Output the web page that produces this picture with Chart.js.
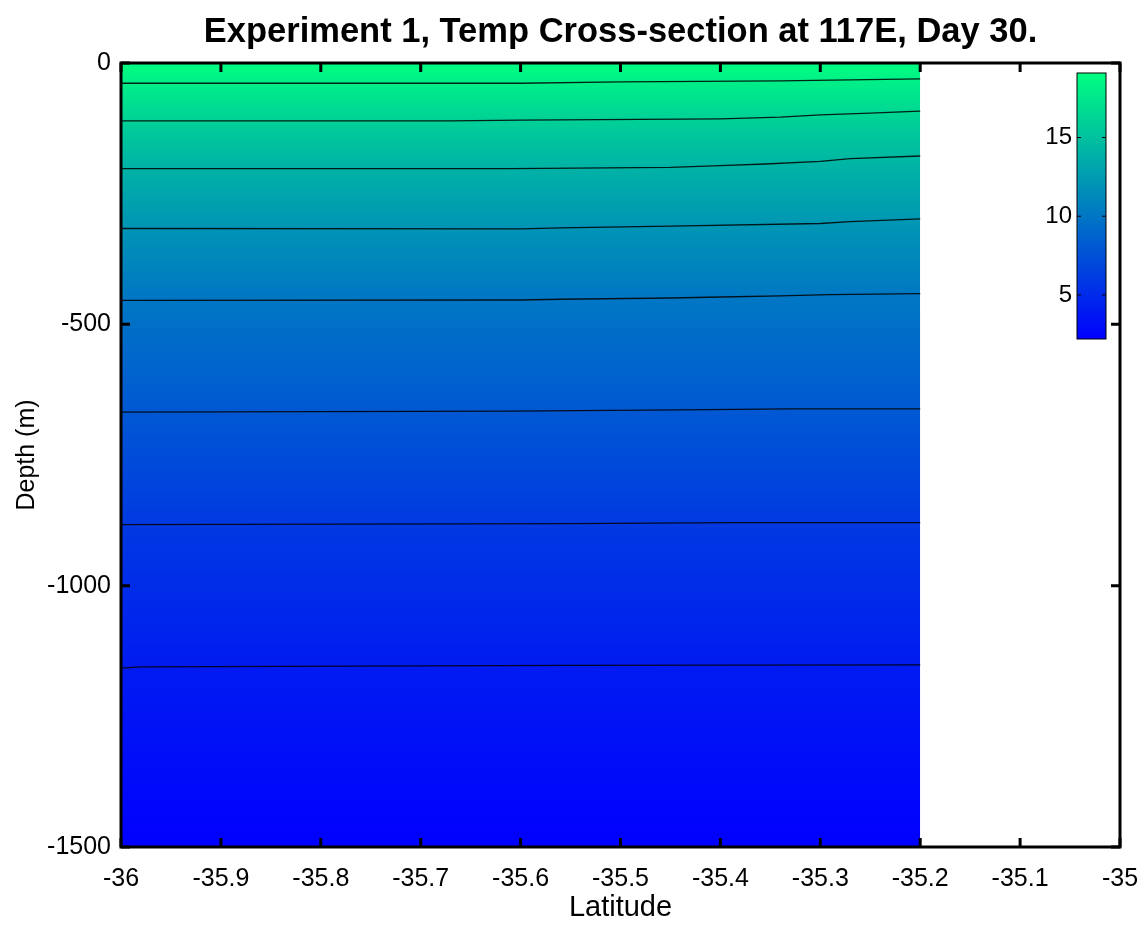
<!DOCTYPE html>
<html>
<head>
<meta charset="utf-8">
<script src="https://cdn.jsdelivr.net/npm/chart.js@4"></script>
<style>
  body { margin: 0; background: #fff; }
  #wrap { position: relative; width: 1140px; height: 928px; }
  #cb { position: absolute; left: 1000px; top: 55px; }
</style>
</head>
<body>
<div id="wrap">
  <canvas id="main" width="1140" height="928"></canvas>
  <canvas id="cb" width="120" height="300"></canvas>
</div>
<script>
const latTicks = [-36, -35.9, -35.8, -35.7, -35.6, -35.5, -35.4, -35.3, -35.2, -35.1, -35];
const depthTicks = [0, -500, -1000, -1500];
const colorTicks = [5, 10, 15];
const sectionLat = [-36, -35.2];
const tempRange = [2.2, 19.1];
const surfaceTemp = 19.1;
const bottomTemp = 2.2;

// contour lines (temperature, degC)
const contourLevels = [18, 16, 14, 12, 10, 8, 6, 4];
const lat18 = [-36, -35.6, -35.5, -35.34, -35.2];
const dep18 = [-38.7, -38.7, -36.2, -34.3, -30.5];
const lat16 = [-36, -35.67, -35.6, -35.4, -35.34, -35.3, -35.25, -35.2];
const dep16 = [-110.6, -110.6, -109.3, -106.8, -103.6, -99.2, -95.9, -92.1];
const lat14 = [-36, -35.61, -35.45, -35.4, -35.355, -35.3, -35.27, -35.2];
const dep14 = [-202.2, -202, -199.7, -196.5, -193.2, -188.3, -183.1, -177.9];
const lat12 = [-36, -35.6, -35.56, -35.45, -35.3, -35.27, -35.2];
const dep12 = [-316.6, -317.2, -315.3, -312.2, -307.1, -303.3, -298.1];
const lat10 = [-36, -35.6, -35.56, -35.45, -35.4, -35.34, -35.29, -35.2];
const dep10 = [-454, -453.4, -452, -449.6, -447.7, -445.7, -443.1, -441.2];
const lat8 = [-36, -35.61, -35.44, -35.33, -35.2];
const dep8 = [-668.1, -666.2, -663.7, -661.8, -661.8];
const lat6 = [-36, -35.55, -35.39, -35.2];
const dep6 = [-883.1, -881.2, -879.3, -879.3];
const lat4 = [-36, -35.98, -35.55, -35.2];
const dep4 = [-1157.7, -1155.2, -1152.6, -1151.4];

const contourLats = [lat18, lat16, lat14, lat12, lat10, lat8, lat6, lat4];
const contourDeps = [dep18, dep16, dep14, dep12, dep10, dep8, dep6, dep4];

const FONT = "'Liberation Sans', Arial, Helvetica, sans-serif";

// matlab "winter" colormap
function winter(f) {
  f = Math.max(0, Math.min(1, f));
  return `rgb(0,${Math.round(255 * f)},${Math.round(255 * (1 - 0.5 * f))})`;
}
const frac = (t) => (t - tempRange[0]) / (tempRange[1] - tempRange[0]);

// box around the axes with ticks pointing inward
const frameTicks = {
  id: "frameTicks",
  afterDatasetsDraw(chart, args, opts) {
    const { ctx, chartArea: a, scales } = chart;
    ctx.save();
    ctx.strokeStyle = "#000";
    ctx.lineWidth = opts.width;
    ctx.beginPath();
    if (opts.xTicks) {
      scales.x.ticks.forEach((t) => {
        const p = scales.x.getPixelForValue(t.value);
        ctx.moveTo(p, a.bottom); ctx.lineTo(p, a.bottom - opts.len);
        ctx.moveTo(p, a.top); ctx.lineTo(p, a.top + opts.len);
      });
    }
    scales.y.ticks.forEach((t) => {
      const p = scales.y.getPixelForValue(t.value);
      ctx.moveTo(a.left, p); ctx.lineTo(a.left + opts.len, p);
      ctx.moveTo(a.right, p); ctx.lineTo(a.right - opts.len, p);
    });
    ctx.stroke();
    ctx.lineWidth = opts.frame;
    ctx.strokeRect(a.left, a.top, a.right - a.left, a.bottom - a.top);
    ctx.restore();
  },
};

function sectionFill(c) {
  const chart = c.chart;
  if (!chart.chartArea || !chart.scales.y) return "rgba(0,0,0,0)";
  const y = chart.scales.y;
  const y0 = y.getPixelForValue(0), y1 = y.getPixelForValue(-1500);
  const g = chart.ctx.createLinearGradient(0, y0, 0, y1);
  const stops = [[0, surfaceTemp]];
  contourLevels.forEach((lv, i) => stops.push([contourDeps[i][0], lv]));
  stops.push([-1500, bottomTemp]);
  stops.forEach(([d, t]) => g.addColorStop(-d / 1500, winter(frac(t))));
  return g;
}

const datasets = [{
  data: sectionLat.map((x) => ({ x, y: 0 })),
  fill: "start",
  backgroundColor: sectionFill,
  borderWidth: 0,
  pointRadius: 0,
  order: 10,
}];
contourLevels.forEach((lv, i) => {
  datasets.push({
    label: String(lv),
    data: contourLats[i].map((x, j) => ({ x, y: contourDeps[i][j] })),
    borderColor: "rgba(0,0,0,0.85)",
    borderWidth: 1.3,
    pointRadius: 0,
    fill: false,
    tension: 0,
    order: 1,
  });
});

const tickFont = { family: FONT, size: 25 };

new Chart(document.getElementById("main"), {
  type: "line",
  data: { datasets },
  options: {
    animation: false,
    responsive: false,
    devicePixelRatio: 1,
    layout: { padding: { left: 0, right: 20, top: 0, bottom: 0 } },
    plugins: {
      legend: { display: false },
      tooltip: { enabled: false },
      title: {
        display: true,
        fullSize: false,
        text: "Experiment 1, Temp Cross-section at 117E, Day 30.",
        color: "#000",
        font: { family: FONT, size: 34.5, weight: "bold", lineHeight: 1.2 },
        padding: { top: 12, bottom: 9.6 },
      },
      frameTicks: { len: 9, width: 3, frame: 3, xTicks: true },
    },
    scales: {
      x: {
        type: "linear",
        min: -36,
        max: -35,
        afterBuildTicks: (s) => { s.ticks = latTicks.map((v) => ({ value: v })); },
        afterFit: (s) => { s.height = 81; s.paddingLeft = 0; s.paddingRight = 0; },
        grid: { display: false, drawTicks: false },
        border: { display: false },
        ticks: { color: "#000", font: tickFont, padding: 17, maxRotation: 0, autoSkip: false, callback: (v) => String(v) },
        title: { display: true, text: "Latitude", color: "#000", font: { family: FONT, size: 29 }, padding: { top: 0, bottom: 3 } },
      },
      y: {
        type: "linear",
        min: -1500,
        max: 0,
        afterBuildTicks: (s) => { s.ticks = depthTicks.map((v) => ({ value: v })); },
        afterFit: (s) => { s.width = 121; s.paddingTop = 0; s.paddingBottom = 0; },
        grid: { display: false, drawTicks: false },
        border: { display: false },
        ticks: { color: "#000", font: tickFont, padding: 10, callback: (v) => String(v) },
        title: { display: true, text: "Depth (m)", color: "#000", font: tickFont, padding: { top: 12, bottom: 0 } },
      },
    },
  },
  plugins: [frameTicks],
});

// colorbar
new Chart(document.getElementById("cb"), {
  type: "bar",
  data: {
    labels: [""],
    datasets: [{
      data: [tempRange],
      backgroundColor: (c) => {
        const chart = c.chart;
        if (!chart.chartArea || !chart.scales.y) return "#00f";
        const y = chart.scales.y;
        const g = chart.ctx.createLinearGradient(0, y.getPixelForValue(tempRange[0]), 0, y.getPixelForValue(tempRange[1]));
        g.addColorStop(0, winter(0));
        g.addColorStop(1, winter(1));
        return g;
      },
      borderWidth: 0,
      barPercentage: 1,
      categoryPercentage: 1,
    }],
  },
  options: {
    animation: false,
    responsive: false,
    devicePixelRatio: 1,
    layout: { padding: { left: 0, right: 14, top: 18, bottom: 16 } },
    plugins: {
      legend: { display: false },
      tooltip: { enabled: false },
      frameTicks: { len: 4, width: 1, frame: 1, xTicks: false },
    },
    scales: {
      x: { display: false },
      y: {
        min: tempRange[0],
        max: tempRange[1],
        afterBuildTicks: (s) => { s.ticks = colorTicks.map((v) => ({ value: v })); },
        afterFit: (s) => { s.width = 77; s.paddingTop = 0; s.paddingBottom = 0; },
        grid: { display: false, drawTicks: false },
        border: { display: false },
        ticks: { color: "#000", font: { family: FONT, size: 24 }, padding: 5 },
      },
    },
  },
  plugins: [frameTicks],
});
</script>
</body>
</html>
